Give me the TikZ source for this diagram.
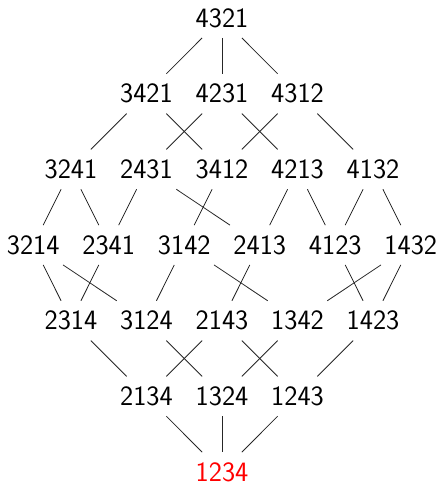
\documentclass[tikz,border=0pt]{standalone}
\begin{document}
\begin{tikzpicture}[x=0.75pt,y=-0.75pt,
  perm/.style={inner sep=7.5pt,font=\sffamily\fontsize{21}{25}\selectfont},
  edge/.style={draw=black!85,line width=0.6pt}]
\useasboundingbox (0,0) rectangle (443,483);
\def\cx{222}\def\hs{37.75}\def\vs{75.67}
% row 0
\node[perm] (a4321) at (222,18) {4321};
% row 1
\node[perm] (a3421) at (222-2*\hs,18+\vs) {3421};
\node[perm] (a4231) at (222,18+\vs) {4231};
\node[perm] (a4312) at (222+2*\hs,18+\vs) {4312};
% row 2
\node[perm] (a3241) at (222-4*\hs,18+2*\vs) {3241};
\node[perm] (a2431) at (222-2*\hs,18+2*\vs) {2431};
\node[perm] (a3412) at (222,18+2*\vs) {3412};
\node[perm] (a4213) at (222+2*\hs,18+2*\vs) {4213};
\node[perm] (a4132) at (222+4*\hs,18+2*\vs) {4132};
% row 3
\node[perm] (a3214) at (222-5*\hs,18+3*\vs) {3214};
\node[perm] (a2341) at (222-3*\hs,18+3*\vs) {2341};
\node[perm] (a3142) at (222-1*\hs,18+3*\vs) {3142};
\node[perm] (a2413) at (222+1*\hs,18+3*\vs) {2413};
\node[perm] (a4123) at (222+3*\hs,18+3*\vs) {4123};
\node[perm] (a1432) at (222+5*\hs,18+3*\vs) {1432};
% row 4
\node[perm] (a2314) at (222-4*\hs,18+4*\vs) {2314};
\node[perm] (a3124) at (222-2*\hs,18+4*\vs) {3124};
\node[perm] (a2143) at (222,18+4*\vs) {2143};
\node[perm] (a1342) at (222+2*\hs,18+4*\vs) {1342};
\node[perm] (a1423) at (222+4*\hs,18+4*\vs) {1423};
% row 5
\node[perm] (a2134) at (222-2*\hs,18+5*\vs) {2134};
\node[perm] (a1324) at (222,18+5*\vs) {1324};
\node[perm] (a1243) at (222+2*\hs,18+5*\vs) {1243};
% row 6
\node[perm,text=red] (a1234) at (222,18+6*\vs) {1234};
% edges
\foreach \u/\v in {4321/3421,4321/4231,4321/4312,
  3421/3241,3421/3412,4231/2431,4231/4213,4312/3412,4312/4132,
  3241/3214,3241/2341,2431/2341,2431/2413,3412/3142,4213/2413,4213/4123,4132/4123,4132/1432,
  3214/2314,3214/3124,2341/2314,3142/3124,3142/1342,2413/2143,4123/1423,1432/1342,1432/1423,
  2314/2134,3124/1324,2143/2134,2143/1243,1342/1324,1423/1243,
  2134/1234,1324/1234,1243/1234}
  \draw[edge] (a\u) -- (a\v);
\end{tikzpicture}
\end{document}
